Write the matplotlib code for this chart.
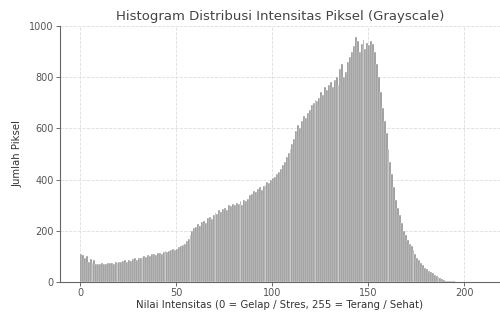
import numpy as np
import matplotlib
matplotlib.use("Agg")
import matplotlib.pyplot as plt

intensity = list(range(0, 210))
counts = [
    110, 105, 95, 100, 80, 90, 75, 85, 70, 72,
    70, 74, 72, 70, 75, 73, 76, 72, 78, 75,
    80, 78, 82, 85, 80, 88, 84, 90, 92, 88,
    95, 92, 98, 100, 96, 105, 102, 108, 110, 106,
    112, 115, 110, 118, 120, 116, 122, 125, 128, 124,
    130, 135, 140, 145, 150, 160, 170, 185, 200, 210,
    215, 225, 220, 235, 240, 230, 250, 255, 245, 262,
    270, 265, 280, 275, 285, 290, 280, 300, 295, 305,
    300, 310, 305, 315, 300, 320, 318, 325, 340, 345,
    355, 350, 365, 370, 360, 375, 380, 390, 385, 400,
    405, 410, 420, 430, 440, 455, 470, 490, 505, 520,
    540, 560, 590, 615, 600, 630, 650, 640, 660, 670,
    690, 700, 710, 705, 720, 740, 730, 760, 750, 770,
    780, 760, 790, 800, 770, 830, 850, 800, 820, 860,
    880, 900, 920, 955, 940, 900, 930, 945, 910, 935,
    925, 940, 930, 900, 850, 800, 740, 680, 630, 580,
    520, 470, 420, 370, 320, 290, 260, 230, 200, 185,
    165, 150, 140, 125, 110, 95, 85, 75, 65, 55,
    50, 45, 40, 35, 28, 22, 18, 14, 10, 8,
    6, 5, 4, 3, 3, 2, 2, 2, 1, 1,
    1, 1, 1, 1, 0, 1, 0, 1, 0, 0,
]
xticks = [0, 50, 100, 150, 200]
yticks = [0, 200, 400, 600, 800, 1000]

title = "Histogram Distribusi Intensitas Piksel (Grayscale)"
xlabel = "Nilai Intensitas (0 = Gelap / Stres, 255 = Terang / Sehat)"
ylabel = "Jumlah Piksel"

fig = plt.figure(figsize=(5, 3.12), dpi=100)
ax = fig.add_axes([0.12, 0.096, 0.88, 0.821])

ax.bar(intensity, counts, width=1.0, align='edge', color='#8c8c8c',
       edgecolor='white', linewidth=0.3, zorder=2)

ax.set_xlim(-10.4, 218.5)
ax.set_ylim(0, 1000)
ax.set_xticks(xticks)
ax.set_yticks(yticks)
ax.grid(True, linestyle='--', color='#dddddd', linewidth=0.6, zorder=0)
ax.set_axisbelow(True)

for s in ['top', 'right']:
    ax.spines[s].set_visible(False)
for s in ['left', 'bottom']:
    ax.spines[s].set_color('#666666')
    ax.spines[s].set_linewidth(0.8)

ax.tick_params(labelsize=7, colors='#555555', length=3, width=0.6, pad=1.5)
ax.set_title(title, fontsize=9.5, color='#444444', pad=4)
ax.set_xlabel(xlabel, fontsize=7.3, color='#333333', labelpad=1)
ax.set_ylabel(ylabel, fontsize=7.3, color='#333333', labelpad=5)

fig.savefig("out.png", dpi=100)
